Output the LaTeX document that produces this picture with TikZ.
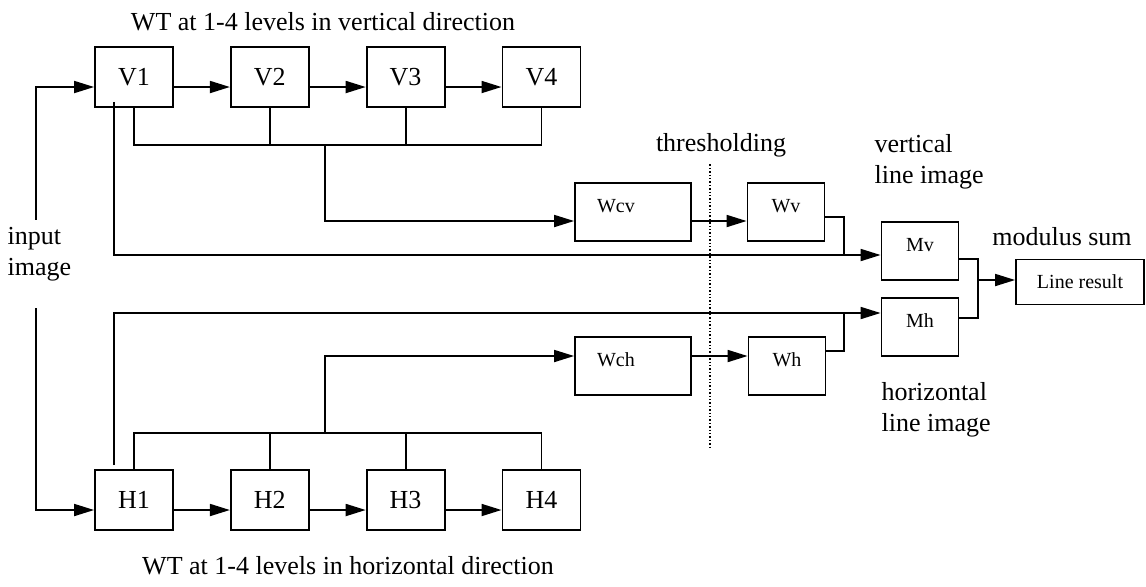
\documentclass[tikz,border=0pt]{standalone}
\usepackage{fontspec}
\setmainfont{Liberation Serif}
\usetikzlibrary{arrows.meta, positioning}

\begin{document}
\begin{tikzpicture}[
  x=0.5pt, y=-0.5pt,
  node distance=28pt,
  line width=0.9pt,
  lvl/.style={
    rectangle, draw, minimum width=39pt, minimum height=30pt,
    inner sep=0pt, font=\fontsize{13}{15}\selectfont
  },
  box/.style={rectangle, draw, inner sep=0pt, font=\fontsize{10}{12}\selectfont},
  wbox/.style={box, minimum width=38.5pt, minimum height=29pt,
    text height=7.5pt, text depth=7.5pt},
  wide/.style={wbox, minimum width=58pt, text width=36pt, align=left},
  lbl/.style={font=\fontsize{13}{15.5}\selectfont, align=left},
  arr/.style={-{Triangle[length=10pt, width=6pt]}}
]
\useasboundingbox (0,0) rectangle (1146,586);

\node[lvl] (v1) at (134,77) {V1};
\node[lvl, right=of v1] (v2) {V2};
\node[lvl, right=of v2] (v3) {V3};
\node[lvl, right=of v3] (v4) {V4};
\node[lvl] (h1) at (134,500) {H1};
\node[lvl, right=of h1] (h2) {H2};
\node[lvl, right=of h2] (h3) {H3};
\node[lvl, right=of h3] (h4) {H4};

\node[wide] (wcv) at (633,212) {Wcv};
\node[wbox] (wv) at (786,212) {Wv};
\node[wide] (wch) at (633,366) {Wch};
\node[wbox] (wh) at (787,366) {Wh};
\node[wbox] (mv) at (920,251) {Mv};
\node[wbox] (mh) at (920,327) {Mh};
\node[box, minimum width=64pt, minimum height=22.5pt] (res) at (1080,282) {Line result};

\node[lbl] (ttop) at (323,22) {WT at 1-4 levels in vertical direction};
\node[lbl] (tbot) at (348,566) {WT at 1-4 levels in horizontal direction};
\node[lbl, anchor=west] (inp) at (0,254) {input\\image};
\node[lbl] (thr) at (721,145) {thresholding};
\node[lbl, anchor=west] (vli) at (867,162) {vertical\\line image};
\node[lbl, anchor=west] (hli) at (874,410) {horizontal\\line image};
\node[lbl] (msum) at (1062,237) {modulus sum};

\foreach \a/\b in {v1/v2, v2/v3, v3/v4, h1/h2, h2/h3, h3/h4}
  \draw[arr] ([yshift=-5pt]\a.east) -- ([yshift=-5pt]\b.west);

\draw[arr] ([xshift=-1.5pt]inp.north) |- ([yshift=-5pt]v1.west);
\draw[arr] ([xshift=-1.5pt,yshift=-10pt]inp.south) |- ([yshift=-5pt]h1.west);

\coordinate (vbus) at (325,145);
\coordinate (hbus) at (325,433);
\draw (v1.south) |- (vbus) -| (v4.south);
\draw (h1.north) |- (hbus) -| (h4.north);
\foreach \n in {v2,v3} \draw (\n.south) -- (\n.south |- vbus);
\foreach \n in {h2,h3} \draw (\n.north) -- (\n.north |- hbus);
\draw[arr] (vbus) |- ([yshift=-4.5pt]wcv.west);
\draw[arr] (hbus) |- ([yshift=5pt]wch.west);
\draw[arr] ([yshift=-4.5pt]wcv.east) -- ([yshift=-4.5pt]wv.west);
\draw[arr] ([yshift=5pt]wch.east) -- ([yshift=5pt]wh.west);

\draw[arr] ([xshift=-10pt,yshift=3pt]v1.south) |- ([yshift=-2pt]mv.west);
\draw[arr] ([xshift=-10pt,yshift=2pt]h1.north) |- ([yshift=7pt]mh.west);

\coordinate (jv) at (844,255);
\coordinate (jh) at (844,313);
\draw ([yshift=-2.5pt]wv.east) -| (jv);
\draw ([yshift=7.5pt]wh.east) -| (jh);

\coordinate (js) at (978,280);
\draw ([yshift=-4pt]mv.east) -| (js) |- ([yshift=4.5pt]mh.east);
\draw[arr] (js) -- (js -| res.west);

\draw[densely dotted, line width=0.7pt] ([xshift=-5.5pt]thr.south) -- ++(0,-142pt);

\end{tikzpicture}
\end{document}
